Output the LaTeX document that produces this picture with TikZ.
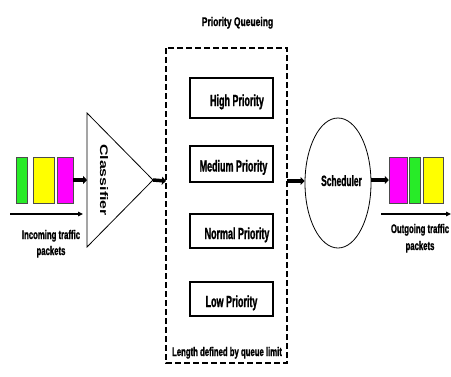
\documentclass[tikz,border=0pt]{standalone}
\usepackage{fontspec}
\setmainfont{Liberation Sans}
\newfontfamily\narA{Liberation Sans}[FakeStretch=0.56,BoldFeatures={FakeBold=1.2}]
\newfontfamily\narB{Liberation Sans}[FakeStretch=0.62,BoldFeatures={FakeBold=1.2}]
\newfontfamily\narC{Liberation Sans}[FakeStretch=0.68,BoldFeatures={FakeBold=1.2}]
\newfontfamily\wid{Liberation Sans}[FakeStretch=1.45]
\usetikzlibrary{arrows.meta,shapes.geometric}
\definecolor{pgreen}{RGB}{40,235,40}
\definecolor{pyellow}{RGB}{255,255,0}
\definecolor{pmag}{RGB}{255,0,255}
\begin{document}
\begin{tikzpicture}[x=1pt,y=-1pt,
  boxlbl/.style={inner sep=0pt,anchor=base,font=\narA\bfseries\fontsize{16}{18}\selectfont},
  titlelbl/.style={inner sep=0pt,anchor=base,font=\narC\bfseries\fontsize{12.5}{14}\selectfont},
  small/.style={inner sep=0pt,anchor=base,font=\narB\bfseries\fontsize{12.5}{14}\selectfont},
  qbox/.style={draw,line width=1.1pt,minimum width=83pt,inner sep=0pt},
  pkt/.style={draw=black!70,line width=0.5pt,inner sep=0pt,minimum height=46pt},
  thick arr/.style={line width=3.5pt,-{Triangle[length=4pt,width=8pt]}},
  thin arr/.style={line width=1.2pt,-{Triangle[length=5pt,width=4.5pt]}}]
\useasboundingbox (0,0) rectangle (451,376);
% title
\node[titlelbl] (title) at (237.5,26) {Priority Queueing};
% dashed box
\draw[line width=1.8pt,dash pattern=on 6pt off 3pt] (166,48) rectangle (287,363);
\coordinate (qin) at (166,181);
\coordinate (qout) at (287,181);
% priority boxes
\node[qbox,minimum height=40pt] (high) at (231.5,98) {};
\node[qbox,minimum height=36pt] (med) at (231.5,164) {};
\node[qbox,minimum height=34pt] (norm) at (231.5,231) {};
\node[qbox,minimum height=34pt] (low) at (231.5,299) {};
\node[boxlbl] (hightxt) at (237,106) {High Priority};
\node[boxlbl] (medtxt) at (233.5,171.5) {Medium Priority};
\node[boxlbl] (normtxt) at (237,239) {Normal Priority};
\node[boxlbl] (lowtxt) at (231.5,307) {Low Priority};
\node[small] (limit) at (227,356) {Length defined by queue limit};
% classifier
\draw[line width=0.8pt] (87,113) coordinate (ctop) -- (153,180) coordinate (apex) -- (87,247) -- cycle;
\coordinate (cin) at (87,180);
\node[inner sep=0pt,rotate=-90,font=\wid\bfseries\fontsize{11}{13}\selectfont] (cls) at (104,180) {Classifier};
% incoming packets
\node[pkt,fill=pgreen,minimum width=11pt] (g1) at (21.5,180) {};
\node[pkt,fill=pyellow,minimum width=21pt] (y1) at (43.5,180) {};
\node[pkt,fill=pmag,minimum width=16pt] (m1) at (65,180) {};
\draw[thick arr] (m1.east) -- (cin);
\coordinate (ia) at (10,214);
\coordinate (ib) at (83,214);
\draw[thin arr] (ia) -- (ib);
\node[small] (intext1) at (51,239) {Incoming traffic};
\node[small] (intext2) at (51,255) {packets};
% apex to queue
\draw[thick arr] (apex) -- (qin);
% scheduler
\node[draw,line width=0.8pt,ellipse,minimum width=66pt,minimum height=130pt,inner sep=0pt] (sched) at (338,183) {};
\node[boxlbl,font=\narA\bfseries\fontsize{15}{18}\selectfont] (schedtxt) at (341.5,186) {Scheduler};
\draw[thick arr] (qout) -- (sched.west |- qout);
% outgoing packets
\node[pkt,fill=pmag,minimum width=18pt] (m2) at (398,180) {};
\node[pkt,fill=pgreen,minimum width=11pt] (g2) at (414.5,180) {};
\node[pkt,fill=pyellow,minimum width=20pt] (y2) at (433,180) {};
\draw[thick arr] (sched.east |- m2.west) -- (m2.west);
\coordinate (oa) at (381,214);
\coordinate (ob) at (451,214);
\draw[thin arr] (oa) -- (ob);
\node[small] (outtext1) at (420,233) {Outgoing traffic};
\node[small] (outtext2) at (420,250) {packets};
\end{tikzpicture}
\end{document}
